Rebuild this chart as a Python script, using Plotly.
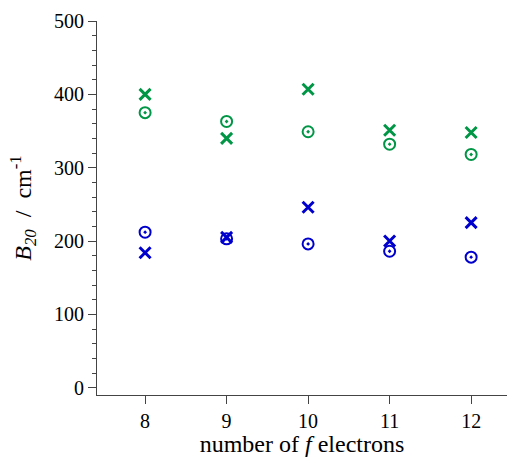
import plotly.graph_objects as go

n_f = [8, 9, 10, 11, 12]
green_x = [400, 340, 407, 351, 348]
green_o = [375, 363, 349, 332, 318]
blue_x = [184, 205, 246, 200, 225]
blue_o = [212, 203, 196, 186, 178]

GREEN = "rgb(0,150,70)"
BLUE = "rgb(0,0,205)"

fig = go.Figure()
def add(y, color, sym):
    if sym == "x":
        marker = dict(symbol="x-thin-open", size=11, color=color,
                      line=dict(width=3, color=color))
    else:
        marker = dict(symbol="circle-open-dot", size=11, color=color,
                      line=dict(width=2, color=color))
    fig.add_trace(go.Scatter(x=n_f, y=y, mode="markers", marker=marker,
                             showlegend=False, hoverinfo="skip"))

add(green_x, GREEN, "x")
add(green_o, GREEN, "o")
add(blue_x, BLUE, "x")
add(blue_o, BLUE, "o")

font = dict(family="Liberation Serif, DejaVu Serif, serif", size=20, color="black")
axcol = "#444"
fig.update_layout(
    width=507, height=457,
    margin=dict(l=97, r=0, t=21, b=62),
    paper_bgcolor="white", plot_bgcolor="white",
    font=font,
    xaxis=dict(range=[7.41, 12.44], tickvals=n_f, ticks="outside", ticklen=8,
               tickcolor=axcol, showline=True, linecolor=axcol, linewidth=1,
               showgrid=False, zeroline=False,
               title=dict(text="number of <i>f</i> electrons", standoff=4)),
    yaxis=dict(range=[-10, 500], tickvals=[0, 100, 200, 300, 400, 500],
               ticks="outside", ticklen=8, tickcolor=axcol,
               showline=True, linecolor=axcol, linewidth=1,
               showgrid=False, zeroline=False,
               minor=dict(dtick=20, ticks="outside", ticklen=4, tickcolor=axcol),
               title=dict(text="<i>B</i><sub><i>20</i></sub>  /  cm<sup>-1</sup>", standoff=15)),
)
fig.write_html("out.html")
